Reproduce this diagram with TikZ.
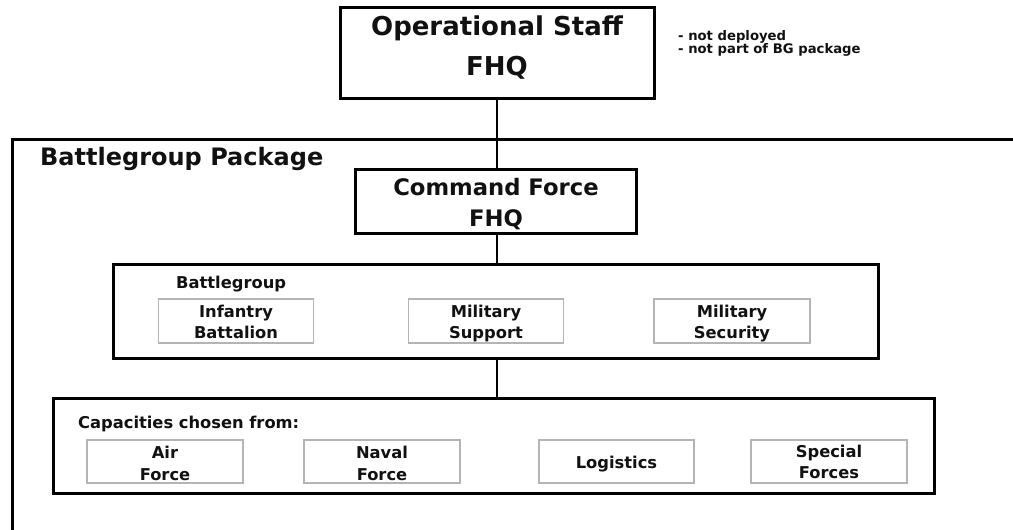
\documentclass[tikz,border=0pt]{standalone}
\usepackage{fontspec}
\setmainfont{DejaVu Sans}
\definecolor{boxgray}{HTML}{B4B4B4}
\definecolor{ink}{HTML}{111111}
\begin{document}
\begin{tikzpicture}[x=1pt,y=-1pt,
  blk/.style={draw=black, line width=3pt, inner sep=0pt},
  gry/.style={draw=boxgray, line width=1.6pt, inner sep=0pt, minimum width=155pt, minimum height=44pt},
  conn/.style={draw=black, line width=2.6pt},
  txtbase/.style={inner sep=0pt, anchor=base, text=ink},
  hugetxt/.style={txtbase, font=\fontsize{26}{30}\selectfont\bfseries},
  largetxt/.style={txtbase, font=\fontsize{22.7}{28}\selectfont\bfseries},
  headtxt/.style={txtbase, anchor=base west, font=\fontsize{24}{28}\selectfont\bfseries},
  smalltxt/.style={txtbase, font=\fontsize{16.3}{20}\selectfont\bfseries},
  notetxt/.style={txtbase, anchor=base west, font=\fontsize{13.2}{16}\selectfont\bfseries}]
\useasboundingbox (0,0) rectangle (1013,530);
\fill[white] (0,0) rectangle (1013,530);

% package frame
\draw[line width=3pt] (12,531) -- (12,139) -- (1014,139);
\node[headtxt] (pkg) at (40,165) {Battlegroup Package};

% boxes
\node[blk, minimum width=314pt, minimum height=91pt] (ops) at (497,52.5) {};
\node[blk, minimum width=281pt, minimum height=64pt] (cmd) at (496,201) {};
\node[blk, minimum width=765pt, minimum height=94pt] (bg) at (495.5,311) {};
\node[blk, minimum width=881pt, minimum height=95pt] (cap) at (493.5,445.5) {};

% connectors
\draw[conn] (ops.south) -- (ops.south |- cmd.north);
\draw[conn] (ops.south |- cmd.south) -- (ops.south |- bg.north);
\draw[conn] (ops.south |- bg.south) -- (ops.south |- cap.north);

% top box text
\node[hugetxt] (opsA) at (497,35.5) {Operational Staff};
\node[hugetxt] (opsB) at (497,75) {FHQ};
\node[notetxt] (noteA) at (678,40) {- not deployed};
\node[notetxt] (noteB) at (678,53.5) {- not part of BG package};

% command force
\node[largetxt] (cmdA) at (496,195) {Command Force};
\node[largetxt] (cmdB) at (496,226) {FHQ};

% battlegroup
\node[smalltxt, anchor=base west] (bgl) at (176,288) {Battlegroup};
\node[gry] (inf) at (236,321) {};
\node[gry] (sup) at (486,321) {};
\node[gry, minimum width=156pt] (sec) at (732,321) {};
\node[smalltxt] (infA) at (236,317) {Infantry};
\node[smalltxt] (infB) at (236,338) {Battalion};
\node[smalltxt] (supA) at (486,317) {Military};
\node[smalltxt] (supB) at (486,338) {Support};
\node[smalltxt] (secA) at (732,317) {Military};
\node[smalltxt] (secB) at (732,338) {Security};

% capacities
\node[smalltxt, anchor=base west] (capl) at (78,428) {Capacities chosen from:};
\node[gry, minimum width=156pt, minimum height=43pt] (air) at (165,461.5) {};
\node[gry, minimum width=156pt, minimum height=43pt] (nav) at (382,461.5) {};
\node[gry, minimum width=155pt, minimum height=43pt] (log) at (616.5,461.5) {};
\node[gry, minimum width=156pt, minimum height=43pt] (spf) at (829,461.5) {};
\node[smalltxt] (airA) at (165,458) {Air};
\node[smalltxt] (airB) at (165,480) {Force};
\node[smalltxt] (navA) at (382,458) {Naval};
\node[smalltxt] (navB) at (382,480) {Force};
\node[smalltxt] (logA) at (616.5,468) {Logistics};
\node[smalltxt] (spfA) at (829,457) {Special};
\node[smalltxt] (spfB) at (829,478) {Forces};
\end{tikzpicture}
\end{document}
